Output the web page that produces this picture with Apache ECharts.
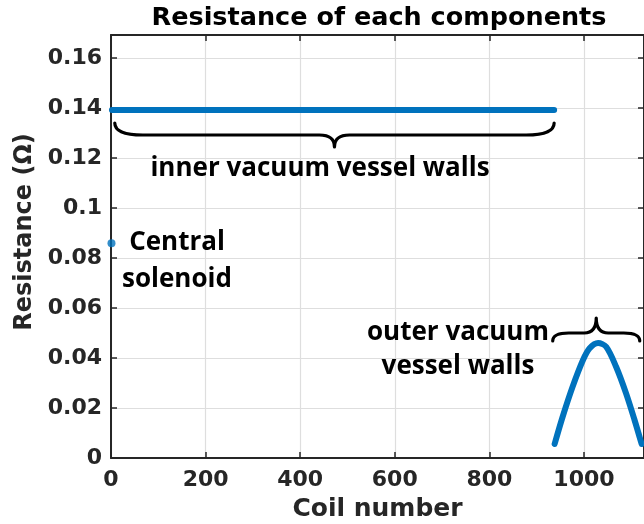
<!DOCTYPE html>
<html>
<head>
<meta charset="utf-8">
<title>Resistance of each components</title>
<script src="https://cdn.jsdelivr.net/npm/echarts@6/dist/echarts.min.js"></script>
<style>
  html, body { margin: 0; padding: 0; background: #ffffff; }
  #chart { width: 644px; height: 524px; }
</style>
</head>
<body>
<div id="chart"></div>
<script>
// Coil resistance per component (Ω)
const centralSolenoid = [[1, 0.0859]];
const innerWalls = [[2, 0.1392], [937, 0.1392]];
const outerWalls = [
  [938, 0.0056], [955, 0.0165], [976, 0.0285], [998, 0.0392], [1012, 0.0439],
  [1030, 0.0460], [1047, 0.0445], [1068, 0.0365], [1089, 0.0259], [1107, 0.0152],
  [1122, 0.0056]
];
const xTickStep = 200;
const yTickStep = 0.02;

// Brace spans over coil ranges: [from coil, to coil, resistance at brace ends]
const innerBrace = [8, 937, 0.134];
const outerBrace = [934, 1118, 0.0468];

const BLUE = '#0072BD';
const INK = '#262626';
const TICK_FONT = 'DejaVu Sans';
const NOTE_FONT = 'Open Sans';

const chart = echarts.init(document.getElementById('chart'), null, { renderer: 'canvas' });

const framedAxis = (extra) => Object.assign({
  type: 'value',
  axisLine: { show: true, onZero: false, lineStyle: { color: INK, width: 2 } },
  axisTick: { show: true, inside: true, length: 6, lineStyle: { color: INK, width: 1.5 } },
  splitLine: { show: false },
  axisLabel: { show: false }
}, extra);

const xRange = { min: 0, max: 1127, interval: xTickStep };
const yRange = { min: 0, max: 0.1692, interval: yTickStep };

// Curly brace path between two pixel x positions (negative depths open upward)
function bracePath(x1, x2, y0, depth, tipDepth, r, tr) {
  const xm = (x1 + x2) / 2;
  const yl = y0 + depth;
  const yt = y0 + tipDepth;
  return 'M' + x1 + ' ' + y0 +
    ' Q' + x1 + ' ' + yl + ' ' + (x1 + r) + ' ' + yl +
    ' L' + (xm - tr) + ' ' + yl +
    ' Q' + xm + ' ' + yl + ' ' + xm + ' ' + yt +
    ' Q' + xm + ' ' + yl + ' ' + (xm + tr) + ' ' + yl +
    ' L' + (x2 - r) + ' ' + yl +
    ' Q' + x2 + ' ' + yl + ' ' + x2 + ' ' + y0;
}

function braceSeries(span, depth, tipDepth, r, tr) {
  return {
    type: 'custom', silent: true, z: 5,
    data: [span],
    renderItem: (params, api) => {
      const a = api.coord([api.value(0), api.value(2)]);
      const b = api.coord([api.value(1), api.value(2)]);
      return {
        type: 'path',
        shape: { pathData: bracePath(a[0], b[0], a[1], depth, tipDepth, r, tr) },
        style: { fill: 'none', stroke: '#000', lineWidth: 3.2, lineCap: 'round', lineJoin: 'round' }
      };
    }
  };
}

const note = (text, x, y) => ({
  type: 'text', x: x, y: y, z: 100,
  style: {
    text: text, fill: '#000', align: 'center', verticalAlign: 'middle',
    font: 'bold 26px "' + NOTE_FONT + '"'
  }
});

chart.setOption({
  animation: false,
  backgroundColor: '#ffffff',
  title: {
    text: 'Resistance of each components',
    left: 374, top: 0, textAlign: 'center',
    textStyle: { fontFamily: TICK_FONT, fontWeight: 'bold', fontSize: 25.5, color: '#000' }
  },
  grid: { left: 111, right: 0, top: 35, bottom: 66, containLabel: false, outerBoundsMode: 'none' },
  xAxis: [
    framedAxis(Object.assign({}, xRange, {
      position: 'bottom',
      name: 'Coil number', nameLocation: 'middle', nameGap: 39,
      nameTextStyle: { fontFamily: TICK_FONT, fontWeight: 'bold', fontSize: 25, color: INK },
      splitLine: { show: true, lineStyle: { color: '#dedede', width: 1.2 } },
      axisLabel: {
        show: true, margin: 11, color: INK, showMaxLabel: false,
        fontFamily: TICK_FONT, fontWeight: 'bold', fontSize: 22,
        formatter: (v) => String(Math.round(v))
      }
    })),
    framedAxis(Object.assign({}, xRange, { position: 'top' }))
  ],
  yAxis: [
    framedAxis(Object.assign({}, yRange, {
      position: 'left',
      splitLine: { show: true, lineStyle: { color: '#dedede', width: 1.2 } },
      axisLabel: {
        show: true, margin: 9, color: INK, showMaxLabel: false,
        fontFamily: TICK_FONT, fontWeight: 'bold', fontSize: 22,
        formatter: (v) => String(+v.toFixed(2))
      }
    })),
    framedAxis(Object.assign({}, yRange, { position: 'right' }))
  ],
  series: [
    {
      name: 'Central solenoid', type: 'scatter',
      data: centralSolenoid, symbol: 'circle', symbolSize: 8,
      itemStyle: { color: BLUE }
    },
    {
      name: 'inner vacuum vessel walls', type: 'line',
      data: innerWalls, showSymbol: false,
      lineStyle: { color: BLUE, width: 6, cap: 'round' }
    },
    {
      name: 'outer vacuum vessel walls', type: 'line',
      data: outerWalls, showSymbol: false, smooth: 0.3,
      lineStyle: { color: BLUE, width: 6, cap: 'round', join: 'round' }
    },
    braceSeries(innerBrace, 12, 24, 28, 15),
    braceSeries(outerBrace, -8, -23, 16, 12)
  ],
  graphic: [
    {
      // y-axis title, rotated to read bottom-up
      type: 'text', x: 25, y: 232, rotation: Math.PI / 2, z: 100,
      style: {
        text: 'Resistance (Ω)', fill: INK, align: 'center', verticalAlign: 'middle',
        font: 'bold 24px "' + TICK_FONT + '"'
      }
    },
    note('inner vacuum vessel walls', 320, 169),
    note('Central', 177, 243),
    note('solenoid', 177, 280),
    note('outer vacuum', 458, 333),
    note('vessel walls', 458, 367)
  ]
});
</script>
</body>
</html>
